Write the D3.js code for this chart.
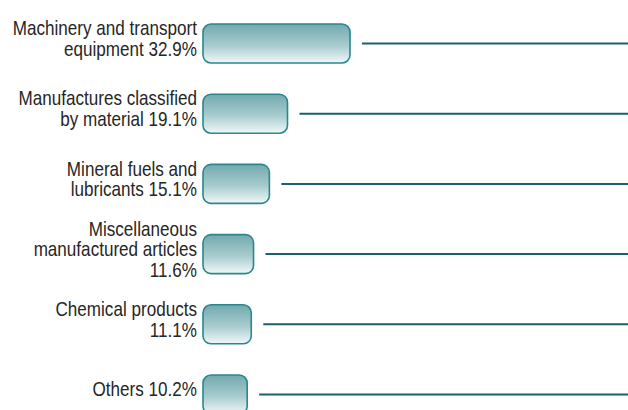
<!DOCTYPE html>
<html>
<head>
<meta charset="utf-8">
<script src="https://cdn.jsdelivr.net/npm/d3@7"></script>
<style>
  html, body { margin: 0; padding: 0; background: #fff; }
  svg { display: block; }
  .label { font-family: "Liberation Sans", Arial, sans-serif; font-size: 20px; fill: #262626; }
</style>
</head>
<body>
<svg id="chart" width="628" height="410"></svg>
<script>
const WIDTH = 628;
const HEIGHT = 410;

// data
const CATEGORIES = [
    ['Machinery and transport', 'equipment 32.9%'],
    ['Manufactures classified', 'by material 19.1%'],
    ['Mineral fuels and', 'lubricants 15.1%'],
    ['Miscellaneous', 'manufactured articles', '11.6%'],
    ['Chemical products', '11.1%'],
    ['Others 10.2%']
];
const SHARES = [32.9, 19.1, 15.1, 11.6, 11.1, 10.2];

const BAR_X = 203;
const BAR_H = 39;
const LABEL_X = 197;
const LINE_GAP = 12;
const LINE_H = 20.5;
const NARROW = 0.855;   // condensed look of the original font

const svg = d3.select('#chart');

const defs = svg.append('defs');
const grad = defs.append('linearGradient')
    .attr('id', 'barGrad')
    .attr('x1', 0).attr('y1', 0)
    .attr('x2', 0).attr('y2', 1);
grad.append('stop').attr('offset', '0%').attr('stop-color', '#72a9ae');
grad.append('stop').attr('offset', '55%').attr('stop-color', '#a7cccf');
grad.append('stop').attr('offset', '100%').attr('stop-color', '#f2f8f9');

const idx = d3.range(SHARES.length);

// bar width
const x = d3.scaleLinear()
    .domain([0, 32.9])
    .range([-2, 147]);

// bar top
const y = d3.scalePoint()
    .domain(idx)
    .range([24, 375]);

const rows = svg.selectAll('g.row')
    .data(idx)
    .join('g')
    .attr('class', 'row');

rows.append('rect')
    .attr('x', BAR_X)
    .attr('y', i => y(i))
    .attr('width', i => x(SHARES[i]))
    .attr('height', BAR_H)
    .attr('rx', 8)
    .attr('ry', 8)
    .attr('fill', 'url(#barGrad)')
    .attr('stroke', '#2a878d')
    .attr('stroke-width', 1.6);

rows.append('line')
    .attr('x1', i => BAR_X + x(SHARES[i]) + LINE_GAP)
    .attr('x2', WIDTH)
    .attr('y1', i => y(i) + BAR_H / 2)
    .attr('y2', i => y(i) + BAR_H / 2)
    .attr('stroke', '#18606a')
    .attr('stroke-width', 2);

rows.append('text')
    .attr('class', 'label')
    .attr('text-anchor', 'end')
    .attr('transform', `translate(${LABEL_X},0) scale(${NARROW},1)`)
    .each(function(i) {
        const lines = CATEGORIES[i];
        const cy = y(i) + BAR_H / 2 - 5;
        const first = cy - (lines.length - 1) * LINE_H / 2 + 7;
        d3.select(this).selectAll('tspan')
            .data(lines)
            .join('tspan')
            .attr('x', 0)
            .attr('y', (d, k) => first + k * LINE_H)
            .text(d => d);
    });
</script>
</body>
</html>
